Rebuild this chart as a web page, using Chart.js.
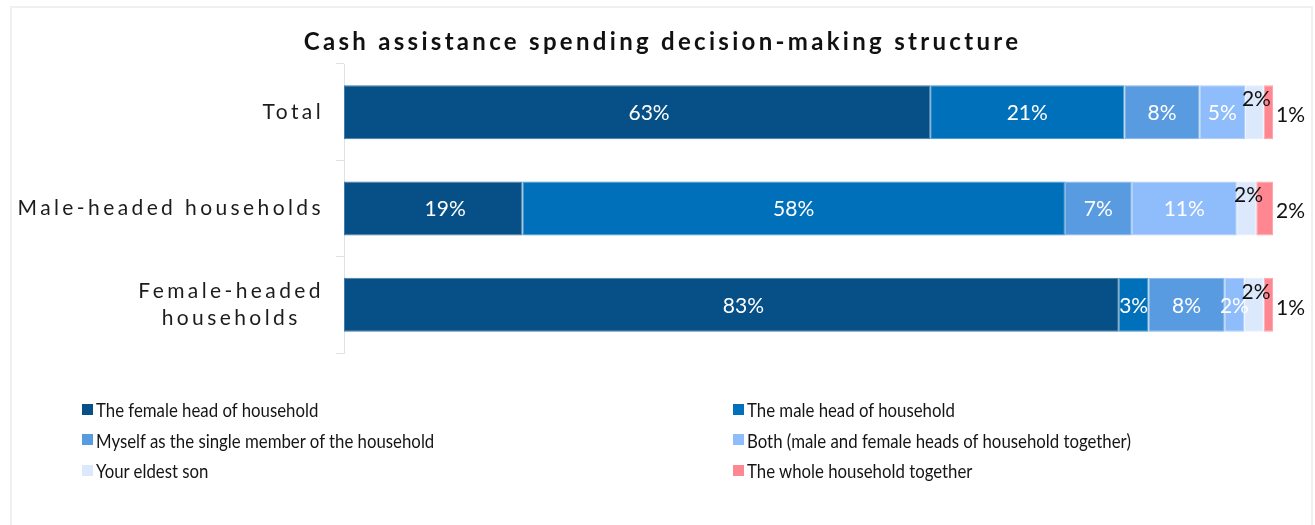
<!DOCTYPE html>
<html>
<head>
<meta charset="utf-8">
<title>Cash assistance spending decision-making structure</title>
<script src="https://cdn.jsdelivr.net/npm/chart.js@4"></script>
<style>
  html, body { margin: 0; padding: 0; background: #fff; }
  body { width: 1315px; height: 525px; position: relative; overflow: hidden; font-family: Lato, "Noto Sans", sans-serif; }
  #frame { position: absolute; left: 10px; top: 6px; width: 1303px; height: 560px; border: 2px solid #eef0f3; box-sizing: border-box; }
  #chart { position: absolute; left: 0; top: 0; }
  #legend { position: absolute; left: 82px; top: 394px; display: grid; grid-template-columns: 651px 570px; }
  .item { display: flex; align-items: center; height: 30.5px; font-size: 20px; color: #151515; white-space: nowrap; }
  .item .tx { display: inline-block; transform: scaleX(0.84); transform-origin: 0 50%; }
  .sw { width: 11px; height: 11px; margin-right: 3px; flex: none; }
</style>
</head>
<body>
<div id="frame"></div>
<canvas id="chart" width="1315" height="525"></canvas>
<div id="legend"></div>
<script>
// Categories (rows) and the share of respondents per decision-maker, in percent
const categories = ['Total', 'Male-headed households', ['Female-headed', 'households']];
const seriesNames = [
  'The female head of household',
  'The male head of household',
  'Myself as the single member of the household',
  'Both (male and female heads of household together)',
  'Your eldest son',
  'The whole household together'
];
const femaleHead     = [63.1, 19.2, 83.4];
const maleHead       = [20.9, 58.4, 3.2];
const myselfSingle   = [8.1, 7.2, 8.2];
const bothHeads      = [4.9, 11.3, 2.1];
const eldestSon      = [2.0, 2.1, 2.1];
const wholeHousehold = [1.0, 1.8, 1.0];
const axisTicks = [0, 100];

const seriesValues = [femaleHead, maleHead, myselfSingle, bothHeads, eldestSon, wholeHousehold];
const seriesColors = ['#064f87', '#0070ba', '#589be1', '#8fbcfb', '#dce8fc', '#ff8792'];
// where each series' value label goes: inside the bar, just above it, or after the bar end
const labelPlacement = ['inside', 'inside', 'inside', 'inside', 'above', 'after'];

function tint(hex, amt) {
  const n = parseInt(hex.slice(1), 16);
  const r = (n >> 16) & 255, g = (n >> 8) & 255, b = n & 255;
  const m = c => Math.round(c + (255 - c) * amt);
  return `rgb(${m(r)},${m(g)},${m(b)})`;
}

const datasets = seriesNames.map((name, i) => ({
  label: name,
  data: seriesValues[i],
  backgroundColor: seriesColors[i],
  borderColor: tint(seriesColors[i], 0.25),
  borderWidth: 1,
  borderSkipped: false,
  barPercentage: 0.8,
  categoryPercentage: 0.7
}));

// Spaced-out lettering for the title (Chart.js draws it before the bars)
const spacingPlugin = {
  id: 'spacing',
  beforeDraw(chart) { chart.ctx.letterSpacing = '3.3px'; },
  beforeDatasetsDraw(chart) { chart.ctx.letterSpacing = '0px'; }
};

// Category labels on the left, right-aligned block with centred lines
const rowLabelPlugin = {
  id: 'rowLabels',
  afterDraw(chart) {
    const ctx = chart.ctx, yScale = chart.scales.y;
    ctx.save();
    ctx.font = '21px Lato';
    ctx.letterSpacing = '3.4px';
    ctx.fillStyle = '#1c1c1c';
    ctx.textAlign = 'center';
    ctx.textBaseline = 'middle';
    const right = 324, lineH = 27;
    chart.data.labels.forEach((lab, i) => {
      const lines = Array.isArray(lab) ? lab : [lab];
      const w = Math.max(...lines.map(l => ctx.measureText(l).width));
      const cx = right - w / 2;
      const cy = yScale.getPixelForValue(i);
      lines.forEach((l, j) => ctx.fillText(l, cx, cy + (j - (lines.length - 1) / 2) * lineH));
    });
    ctx.restore();
  }
};

// Percentage labels on the bar segments
const valueLabelPlugin = {
  id: 'valueLabels',
  afterDatasetsDraw(chart) {
    const ctx = chart.ctx;
    ctx.save();
    ctx.letterSpacing = '0px';
    ctx.font = '21px Lato';
    ctx.textBaseline = 'middle';
    chart.data.datasets.forEach((ds, di) => {
      const meta = chart.getDatasetMeta(di);
      meta.data.forEach((bar, i) => {
        const txt = Math.round(ds.data[i]) + '%';
        const p = bar.getProps(['x', 'y', 'base'], true);
        const mid = (p.x + p.base) / 2;
        const where = labelPlacement[di];
        if (where === 'inside') {
          // the leading segment's label sits a little right of centre
          const shift = di === 0 ? 12 : 0;
          ctx.fillStyle = '#ffffff';
          ctx.textAlign = 'center';
          ctx.fillText(txt, mid + shift, p.y + 1);
        } else if (where === 'above') {
          ctx.fillStyle = '#111111';
          ctx.textAlign = 'center';
          ctx.fillText(txt, mid + 2, p.y - 13);
        } else {
          ctx.fillStyle = '#111111';
          ctx.textAlign = 'left';
          ctx.fillText(txt, p.x + 3, p.y + 3);
        }
      });
    });
    ctx.restore();
  }
};

const chart = new Chart(document.getElementById('chart'), {
  type: 'bar',
  data: { labels: categories, datasets },
  plugins: [spacingPlugin, rowLabelPlugin, valueLabelPlugin],
  options: {
    indexAxis: 'y',
    responsive: false,
    animation: false,
    layout: { padding: { left: 52, right: 42, top: 0, bottom: 172 } },
    scales: {
      x: {
        stacked: true,
        display: false,
        min: axisTicks[0],
        max: axisTicks[axisTicks.length - 1]
      },
      y: {
        stacked: true,
        ticks: { display: false },
        grid: { display: true, drawOnChartArea: false, drawTicks: true, tickLength: 8, offset: true, color: '#dfe3e8', lineWidth: 1 },
        border: { display: true, color: '#dfe3e8', width: 1 },
        afterFit(scale) { scale.width = 292; }
      }
    },
    plugins: {
      legend: { display: false },
      tooltip: { enabled: false },
      title: {
        display: true,
        text: 'Cash assistance spending decision-making structure',
        color: '#111111',
        font: { family: 'Lato', size: 24, weight: 'bold', lineHeight: 1.1 },
        padding: { top: 28.8, bottom: 8.8 }
      }
    }
  }
});

// Legend in two columns, built from the datasets
const legendEl = document.getElementById('legend');
chart.data.datasets.forEach(ds => {
  const item = document.createElement('div');
  item.className = 'item';
  const sw = document.createElement('span');
  sw.className = 'sw';
  sw.style.background = ds.backgroundColor;
  const tx = document.createElement('span');
  tx.className = 'tx';
  tx.textContent = ds.label;
  item.appendChild(sw);
  item.appendChild(tx);
  legendEl.appendChild(item);
});
</script>
</body>
</html>
